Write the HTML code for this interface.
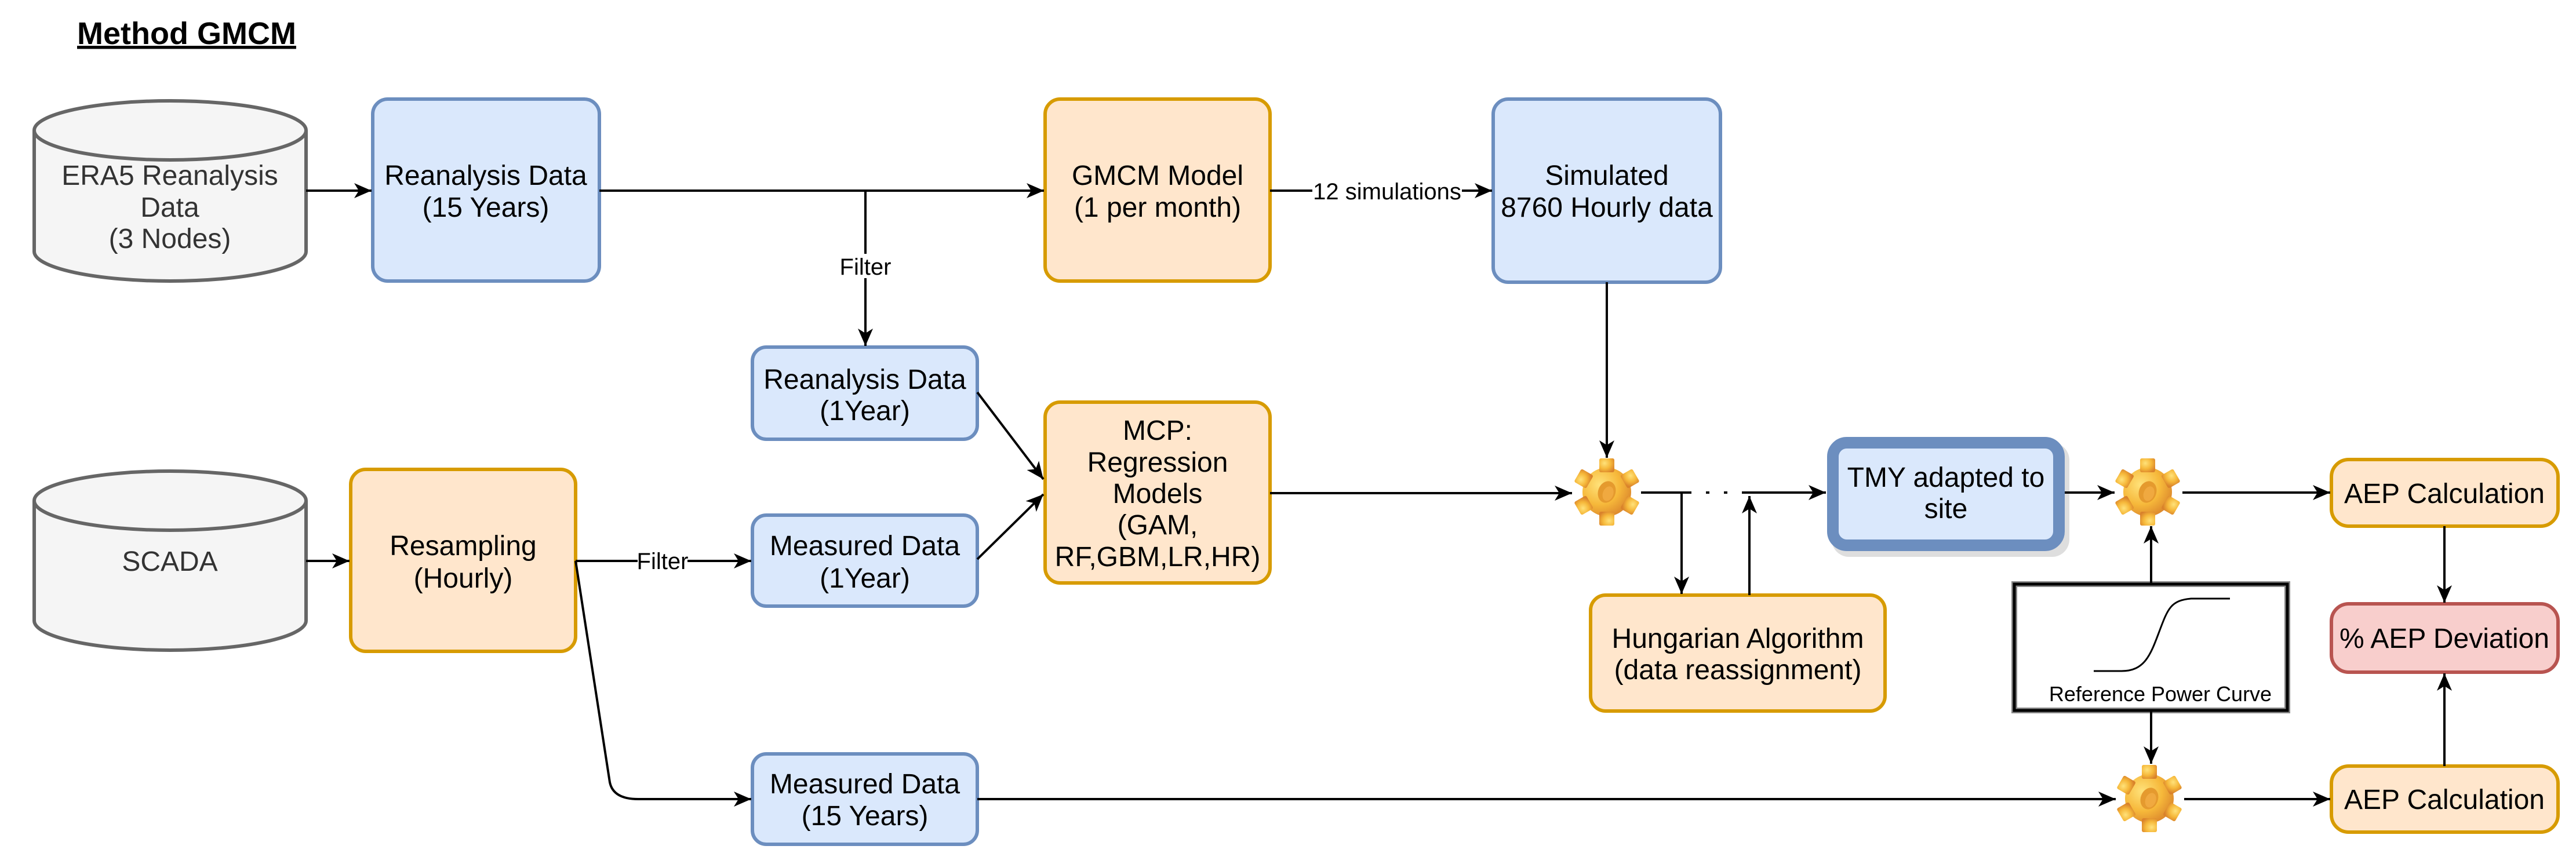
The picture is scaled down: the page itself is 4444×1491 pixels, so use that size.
<!DOCTYPE html>
<html><head><meta charset="utf-8"><style>
html,body{margin:0;padding:0;background:#fff}
svg{display:block}
text{font-family:"Liberation Sans",Arial,sans-serif}
</style></head><body>
<svg width="4444" height="1491" viewBox="0 0 4444 1491" xmlns="http://www.w3.org/2000/svg">
<defs>
<marker id="a" markerUnits="userSpaceOnUse" markerWidth="34" markerHeight="30" refX="30" refY="13" orient="auto">
<path d="M0,0 L30,13 L0,26 L8,13 Z" fill="#000"/>
</marker>
<radialGradient id="g" cx="35%" cy="35%" r="75%">
<stop offset="0" stop-color="#ffe27a"/><stop offset="0.55" stop-color="#f6b83a"/><stop offset="1" stop-color="#d9822b"/>
</radialGradient>
<g id="gear">
<g fill="url(#g)">
<circle r="42"/>
<rect x="-13" y="-58" width="26" height="24" rx="3"/>
<rect x="-13" y="-58" width="26" height="24" rx="3" transform="rotate(60)"/>
<rect x="-13" y="-58" width="26" height="24" rx="3" transform="rotate(120)"/>
<rect x="-13" y="-58" width="26" height="24" rx="3" transform="rotate(180)"/>
<rect x="-13" y="-58" width="26" height="24" rx="3" transform="rotate(240)"/>
<rect x="-13" y="-58" width="26" height="24" rx="3" transform="rotate(300)"/>
</g>
<ellipse rx="15" ry="19" fill="#e59a2e" transform="rotate(20)"/>
<ellipse rx="9" ry="13" fill="#f0a940" transform="rotate(20) translate(3,2)"/>
</g>
</defs>

<!-- title -->
<text x="133" y="76" font-size="54" font-weight="bold" fill="#000" text-decoration="underline">Method GMCM</text>

<!-- ERA5 cylinder -->
<g stroke="#666" stroke-width="6" fill="#f5f5f5">
<path d="M59,225 L59,434 A234.5,51 0 0 0 528,434 L528,225"/>
<ellipse cx="293.5" cy="225" rx="234.5" ry="51"/>
</g>
<g font-size="48" fill="#333" text-anchor="middle">
<text x="293" y="319">ERA5 Reanalysis</text>
<text x="293" y="374">Data</text>
<text x="293" y="428">(3 Nodes)</text>
</g>

<!-- SCADA cylinder -->
<g stroke="#666" stroke-width="6" fill="#f5f5f5">
<path d="M59,864 L59,1071 A234.5,51 0 0 0 528,1071 L528,864"/>
<ellipse cx="293.5" cy="864" rx="234.5" ry="51"/>
</g>
<text x="293" y="985" font-size="48" fill="#333" text-anchor="middle">SCADA</text>

<!-- blue boxes -->
<g fill="#dae8fc" stroke="#6c8ebf" stroke-width="6">
<rect x="643" y="171" width="391" height="314" rx="26"/>
<rect x="2576" y="171" width="392" height="316" rx="26"/>
<rect x="1298" y="599" width="388" height="159" rx="24"/>
<rect x="1298" y="889" width="388" height="157" rx="24"/>
<rect x="1298" y="1301" width="388" height="156" rx="24"/>
</g>
<!-- TMY -->
<rect x="3160" y="764" width="410" height="197" rx="30" fill="#c8c8c8" opacity="0.6"/>
<rect x="3162" y="764" width="390" height="177" rx="24" fill="#dae8fc" stroke="#6c8ebf" stroke-width="20"/>

<!-- orange boxes -->
<g fill="#ffe6cc" stroke="#d79b00" stroke-width="6">
<rect x="1803" y="171" width="388" height="314" rx="26"/>
<rect x="1803" y="694" width="388" height="312" rx="26"/>
<rect x="605" y="810" width="388" height="314" rx="26"/>
<rect x="2744" y="1027" width="508" height="200" rx="26"/>
<rect x="4022" y="793" width="391" height="115" rx="30"/>
<rect x="4022" y="1322" width="391" height="114" rx="30"/>
</g>
<rect x="4022" y="1042" width="391" height="118" rx="30" fill="#f8cecc" stroke="#b85450" stroke-width="6"/>

<!-- reference power curve -->
<rect x="3475" y="1008" width="471" height="218" fill="#fff" stroke="#888" stroke-width="10"/>
<rect x="3475" y="1008" width="471" height="218" fill="none" stroke="#000" stroke-width="5"/>
<path d="M3612,1158 L3660,1158 C3700,1158 3710,1130 3725,1090 C3740,1050 3745,1036 3780,1033 L3847,1033" fill="none" stroke="#000" stroke-width="3"/>
<text x="3727" y="1210" font-size="36" fill="#000" text-anchor="middle">Reference Power Curve</text>

<!-- box texts -->
<g font-size="48" fill="#000" text-anchor="middle">
<text x="838" y="319">Reanalysis Data</text>
<text x="838" y="374">(15 Years)</text>
<text x="1997" y="319">GMCM Model</text>
<text x="1997" y="374">(1 per month)</text>
<text x="2772" y="319">Simulated</text>
<text x="2772" y="374">8760 Hourly data</text>
<text x="1492" y="671">Reanalysis Data</text>
<text x="1492" y="725">(1Year)</text>
<text x="1997" y="759">MCP:</text>
<text x="1997" y="814">Regression</text>
<text x="1997" y="868">Models</text>
<text x="1997" y="922">(GAM,</text>
<text x="1997" y="977">RF,GBM,LR,HR)</text>
<text x="799" y="958">Resampling</text>
<text x="799" y="1014">(Hourly)</text>
<text x="1492" y="958">Measured Data</text>
<text x="1492" y="1014">(1Year)</text>
<text x="1492" y="1369">Measured Data</text>
<text x="1492" y="1424">(15 Years)</text>
<text x="3357" y="840">TMY adapted to</text>
<text x="3357" y="894">site</text>
<text x="2998" y="1118">Hungarian Algorithm</text>
<text x="2998" y="1172">(data reassignment)</text>
<text x="4217" y="868">AEP Calculation</text>
<text x="4217" y="1118">% AEP Deviation</text>
<text x="4217" y="1396">AEP Calculation</text>
</g>

<!-- connectors -->
<g stroke="#000" stroke-width="4" fill="none">
<line x1="528" y1="329" x2="641" y2="329" marker-end="url(#a)"/>
<line x1="1034" y1="329" x2="1801" y2="329" marker-end="url(#a)"/>
<line x1="1493" y1="329" x2="1493" y2="597" marker-end="url(#a)"/>
<line x1="2191" y1="329" x2="2574" y2="329" marker-end="url(#a)"/>
<line x1="528" y1="968" x2="603" y2="968" marker-end="url(#a)"/>
<line x1="993" y1="968" x2="1296" y2="968" marker-end="url(#a)"/>
<line x1="1686" y1="677" x2="1800" y2="827" marker-end="url(#a)"/>
<line x1="1686" y1="965" x2="1800" y2="853" marker-end="url(#a)"/>
<path d="M993,968 L1052,1350 Q1058,1379 1101,1379 L1296,1379" marker-end="url(#a)"/>
<line x1="2191" y1="851" x2="2712" y2="851" marker-end="url(#a)"/>
<line x1="2772" y1="487" x2="2772" y2="790" marker-end="url(#a)"/>
<line x1="2831" y1="850" x2="2912" y2="850"/>
<line x1="2912" y1="850" x2="3010" y2="850" stroke-dasharray="6,25"/>
<line x1="3010" y1="850" x2="3150" y2="850" marker-end="url(#a)"/>
<line x1="2901" y1="850" x2="2901" y2="1025" marker-end="url(#a)"/>
<line x1="3018" y1="1027" x2="3018" y2="856" marker-end="url(#a)"/>
<line x1="3562" y1="850" x2="3648" y2="850" marker-end="url(#a)"/>
<line x1="3765" y1="850" x2="4020" y2="850" marker-end="url(#a)"/>
<line x1="3711" y1="1006" x2="3711" y2="908" marker-end="url(#a)"/>
<line x1="3711" y1="1228" x2="3711" y2="1318" marker-end="url(#a)"/>
<line x1="4217" y1="908" x2="4217" y2="1040" marker-end="url(#a)"/>
<line x1="4217" y1="1322" x2="4217" y2="1162" marker-end="url(#a)"/>
<line x1="1686" y1="1379" x2="3650" y2="1379" marker-end="url(#a)"/>
<line x1="3768" y1="1379" x2="4020" y2="1379" marker-end="url(#a)"/>
</g>

<!-- connector labels -->
<g font-size="40" fill="#000" text-anchor="middle">
<rect x="1450" y="438" width="86" height="42" fill="#fff"/>
<text x="1493" y="474">Filter</text>
<rect x="1100" y="946" width="86" height="42" fill="#fff"/>
<text x="1143" y="982">Filter</text>
<rect x="2264" y="308" width="258" height="44" fill="#fff"/>
<text x="2393" y="344">12 simulations</text>
</g>

<!-- gears -->
<use href="#gear" x="2772" y="849"/>
<use href="#gear" x="3705" y="849"/>
<use href="#gear" x="3708" y="1378"/>
</svg>
</body></html>
